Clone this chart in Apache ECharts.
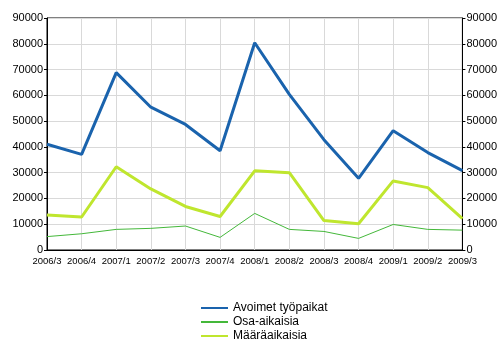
<!DOCTYPE html>
<html>
<head>
<meta charset="utf-8">
<script src="https://cdn.jsdelivr.net/npm/echarts@6/dist/echarts.min.js"></script>
<style>
html,body{margin:0;padding:0;background:#fff;}
#c{width:500px;height:350px;}
</style>
</head>
<body>
<div id="c"></div>
<script>
// Quarterly categories
var quarters = ['2006/3','2006/4','2007/1','2007/2','2007/3','2007/4','2008/1','2008/2','2008/3','2008/4','2009/1','2009/2','2009/3'];
// Open vacancies, total
var avoimet = [41000, 37100, 68800, 55400, 48700, 38500, 80400, 60400, 42800, 27800, 46300, 37800, 30800];
// Part-time vacancies
var osaAikaisia = [5200, 6300, 8000, 8400, 9300, 4900, 14200, 8000, 7200, 4500, 9900, 8000, 7700];
// Fixed-term vacancies
var maaraaikaisia = [13600, 12800, 32300, 23700, 16900, 13000, 30700, 30000, 11400, 10200, 26800, 24200, 12200];

var FONT = '"Liberation Sans", Arial, sans-serif';

var chart = echarts.init(document.getElementById('c'), null, {renderer: 'canvas'});

function valueAxis(pos) {
  return {
    type: 'value', position: pos, min: 0, max: 90000, interval: 10000,
    axisLine: {show: true, lineStyle: {color: '#000', width: 1}},
    axisTick: {show: true, length: 3, lineStyle: {color: '#000'}},
    axisLabel: {fontFamily: FONT, fontSize: 11, color: '#000', margin: 4,
                formatter: function (v) { return String(v); }},
    splitLine: {show: pos === 'left', lineStyle: {color: '#d9d9d9', width: 1}}
  };
}

chart.setOption({
  animation: false,
  backgroundColor: '#fff',
  grid: {left: 47, right: 37, top: 18, bottom: 100, show: true, borderColor: '#000', borderWidth: 1, containLabel: false},
  legend: {
    orient: 'vertical', left: 195, top: 297, height: 60, itemWidth: 27, itemHeight: 12, itemGap: 2,
    itemStyle: {opacity: 0},
    textStyle: {fontFamily: FONT, fontSize: 12, color: '#000'},
    data: ['Avoimet työpaikat', 'Osa-aikaisia', 'Määräaikaisia']
  },
  xAxis: {
    type: 'category', data: quarters, boundaryGap: false,
    axisLine: {lineStyle: {color: '#000'}},
    axisTick: {show: false},
    axisLabel: {fontFamily: FONT, fontSize: 9.5, color: '#000', margin: 6, interval: 0},
    splitLine: {show: true, lineStyle: {color: '#d9d9d9', width: 1}}
  },
  yAxis: [valueAxis('left'), valueAxis('right')],
  series: [
    {name: 'Avoimet työpaikat', type: 'line', data: avoimet, symbol: 'none',
     lineStyle: {color: '#1a63ad', width: 3}, itemStyle: {color: '#1a63ad'}},
    {name: 'Osa-aikaisia', type: 'line', data: osaAikaisia, symbol: 'none',
     lineStyle: {color: '#44b83a', width: 1}, itemStyle: {color: '#44b83a'}},
    {name: 'Määräaikaisia', type: 'line', data: maaraaikaisia, symbol: 'none',
     lineStyle: {color: '#bfe62e', width: 3}, itemStyle: {color: '#bfe62e'}}
  ]
});
</script>
</body>
</html>
